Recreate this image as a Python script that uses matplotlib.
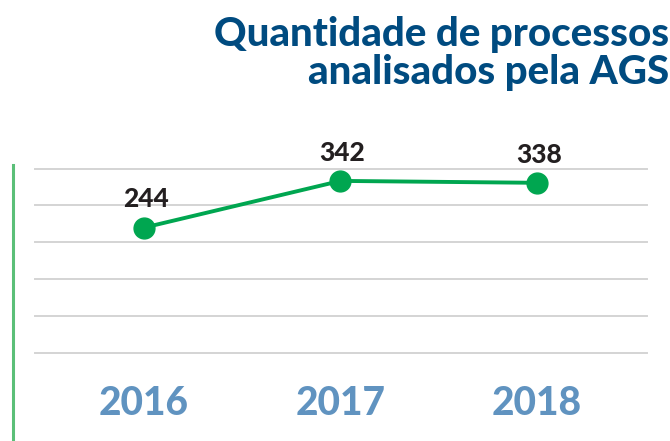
import numpy as np
import matplotlib.pyplot as plt
from matplotlib.lines import Line2D

plt.rcParams['font.family'] = ['Lato', 'DejaVu Sans']

# Dados
anos = ['2016', '2017', '2018']
processos = [244, 342, 338]
titulo_l1 = 'Quantidade de processos'
titulo_l2 = 'analisados pela AGS'

fig = plt.figure(figsize=(6.7, 4.41), dpi=100)
ax = fig.add_axes([0.0522, 0.1995, 0.9134, 0.4184])

x = np.arange(len(anos))
ax.plot(x, processos, color='#00a650', lw=2.8, marker='o', ms=15,
        solid_capstyle='round', zorder=3, clip_on=False)

for xi, v in zip(x, processos):
    ax.annotate(str(v), (xi, v), xytext=(1.5, 14.5), textcoords='offset points',
                ha='center', va='baseline', fontsize=19, fontweight='black',
                color='#231f20')

ax.set_xlim(-0.555, 2.56)
ax.set_ylim(-19, 368)
ax.set_yticks(np.linspace(-19, 368, 6))
ax.set_yticklabels([])
ax.yaxis.grid(True, color='#d4d4d4', lw=1.4)
for gl in ax.get_ygridlines():
    gl.set_clip_on(False)
ax.set_axisbelow(True)

ax.set_xticks(x)
ax.set_xticklabels(anos, fontsize=28, fontweight='black', color='#6093c0')
ax.tick_params(axis='both', length=0)
ax.tick_params(axis='x', pad=23)
for s in ax.spines.values():
    s.set_visible(False)

# barra vertical verde à esquerda
fig.add_artist(Line2D([13 / 670] * 2, [0, (441 - 165) / 441],
                      transform=fig.transFigure, color='#5bbf78', lw=2.2))

fig.text(669 / 670, 1 - 46 / 441, titulo_l1, ha='right', va='baseline',
         fontsize=29, fontweight='black', color='#004b80')
fig.text(669 / 670, 1 - 84 / 441, titulo_l2, ha='right', va='baseline',
         fontsize=29, fontweight='black', color='#004b80')

fig.savefig('out.png', dpi=100)
